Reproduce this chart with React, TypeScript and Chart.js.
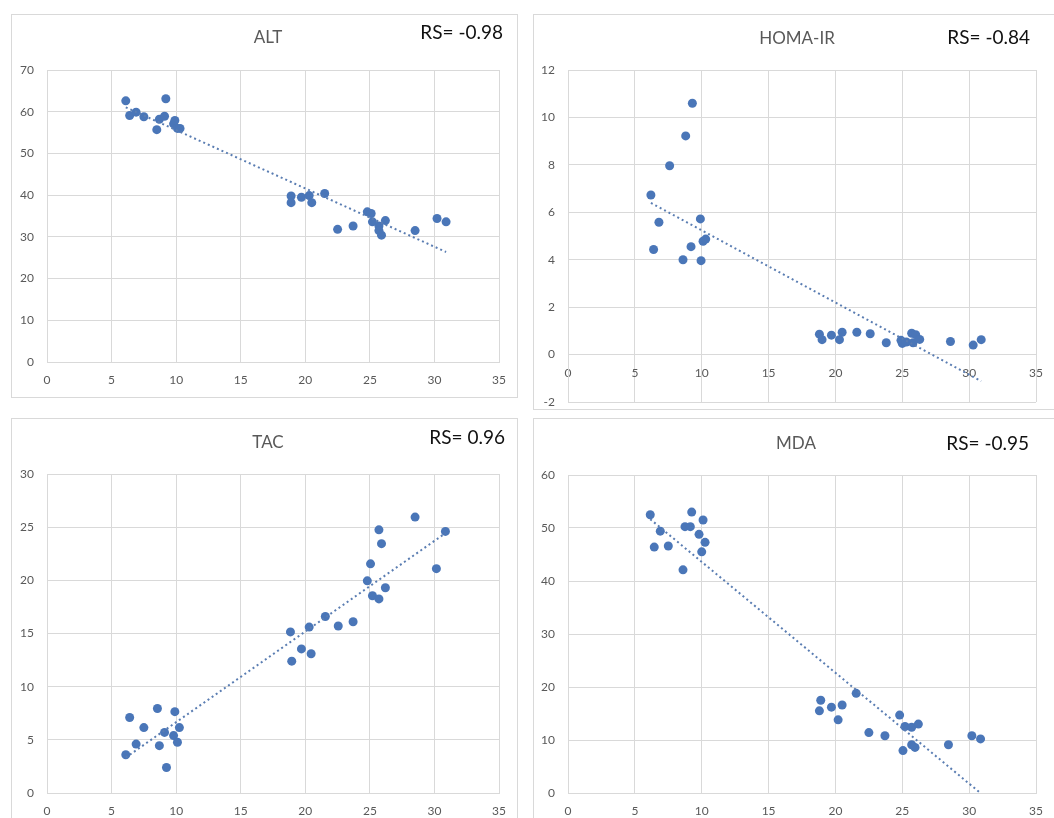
import React, { useEffect, useRef } from "react";
import { Chart, registerables } from "chart.js";

Chart.register(...registerables);

// ---------- data ----------
const xAxisRange = [0, 35, 5];

const altX = [6.1, 6.4, 6.9, 7.5, 8.5, 8.7, 9.1, 9.2, 9.8, 9.9, 10.1, 10.3, 18.9, 18.9, 19.7, 20.3, 20.5, 21.5, 22.5, 23.7, 24.8, 25.1, 25.2, 25.7, 25.7, 25.9, 26.2, 28.5, 30.2, 30.9];
const altY = [62.6, 59.1, 59.9, 58.8, 55.7, 58.2, 58.9, 63.1, 57.1, 57.9, 56.0, 56.0, 39.8, 38.2, 39.5, 39.9, 38.2, 40.4, 31.8, 32.6, 36.0, 35.6, 33.6, 32.6, 31.5, 30.4, 33.9, 31.5, 34.4, 33.6];
const altYAxis = [0, 70, 10];

const homaX = [6.2, 6.4, 6.8, 7.6, 8.6, 8.8, 9.2, 9.3, 9.9, 9.95, 10.1, 10.3, 18.8, 19.0, 19.7, 20.3, 20.5, 21.6, 22.6, 23.8, 24.9, 25.0, 25.3, 25.7, 25.8, 26.0, 26.3, 28.6, 30.3, 30.9];
const homaY = [6.73, 4.43, 5.58, 7.96, 4.0, 9.22, 4.55, 10.6, 5.72, 3.96, 4.78, 4.87, 0.86, 0.63, 0.82, 0.63, 0.94, 0.94, 0.88, 0.5, 0.6, 0.47, 0.53, 0.9, 0.5, 0.84, 0.64, 0.55, 0.4, 0.63];
const homaYAxis = [-2, 12, 2];

const tacX = [6.1, 6.4, 6.9, 7.5, 8.55, 8.7, 9.1, 9.25, 9.8, 9.9, 10.1, 10.25, 18.85, 18.95, 19.7, 20.3, 20.45, 21.55, 22.55, 23.7, 24.8, 25.05, 25.2, 25.7, 25.7, 25.9, 26.2, 28.5, 30.15, 30.85];
const tacY = [3.6, 7.1, 4.6, 6.15, 7.95, 4.45, 5.7, 2.4, 5.4, 7.65, 4.77, 6.15, 15.15, 12.4, 13.55, 15.6, 13.1, 16.6, 15.7, 16.1, 19.95, 21.55, 18.55, 24.75, 18.25, 23.45, 19.3, 25.95, 21.1, 24.6];
const tacYAxis = [0, 30, 5];

const mdaX = [6.15, 6.45, 6.9, 7.5, 8.6, 8.75, 9.15, 9.25, 9.8, 10.0, 10.1, 10.25, 18.8, 18.9, 19.7, 20.2, 20.5, 21.55, 22.5, 23.7, 24.8, 25.05, 25.2, 25.7, 25.7, 25.95, 26.2, 28.45, 30.2, 30.85];
const mdaY = [52.5, 46.4, 49.4, 46.6, 42.1, 50.25, 50.25, 53.0, 48.8, 45.5, 51.5, 47.3, 15.5, 17.5, 16.2, 13.8, 16.6, 18.8, 11.4, 10.8, 14.7, 8.0, 12.55, 12.4, 9.1, 8.6, 13.0, 9.1, 10.8, 10.2];
const mdaYAxis = [0, 60, 10];

const titles = ["ALT", "HOMA-IR", "TAC", "MDA"];
const rsLabels = ["RS= -0.98", "RS= -0.84", "RS= 0.96", "RS= -0.95"];

// ---------- styles ----------
const FONT = "Lato, 'Open Sans', 'DejaVu Sans', sans-serif";
const BLUE = "#4a76b8";
const TREND = "#5a7db2";
const GRID = "#d9d9d9";
const TICK = "#595959";

// least-squares trend line over the data's x range (like Excel's linear trendline)
function trendOf(xs: number[], ys: number[]) {
  const n = xs.length;
  const mx = xs.reduce((a, b) => a + b, 0) / n;
  const my = ys.reduce((a, b) => a + b, 0) / n;
  let sxx = 0, sxy = 0;
  for (let i = 0; i < n; i++) {
    sxx += (xs[i] - mx) ** 2;
    sxy += (xs[i] - mx) * (ys[i] - my);
  }
  const b = sxy / sxx;
  const a = my - b * mx;
  const x0 = Math.min(...xs), x1 = Math.max(...xs);
  return [{ x: x0, y: a + b * x0 }, { x: x1, y: a + b * x1 }];
}

// Draws the panel title (centred) and the RS label (right-aligned)
const panelTextPlugin = {
  id: "panelText",
  afterDraw(chart: any, _args: any, opts: any) {
    const ctx = chart.ctx;
    ctx.save();
    ctx.textBaseline = "middle";
    ctx.font = `17px ${FONT}`;
    ctx.fillStyle = TICK;
    ctx.textAlign = "center";
    ctx.fillText(opts.title, opts.tx, opts.ty);
    ctx.font = `19px ${FONT}`;
    ctx.fillStyle = "#111111";
    ctx.textAlign = "right";
    ctx.fillText(opts.rs, opts.rx, opts.ry);
    ctx.restore();
  },
};

type Rect = { left: number; top: number; width: number; height: number };
type PanelProps = {
  xs: number[]; ys: number[]; yAxis: number[]; title: string; rs: string;
  box: Rect; border: Rect;
  padT: number; padR: number; padB: number; yW: number; xH: number;
  titlePos: { x: number; y: number }; rsPos: { x: number; y: number };
  xAtZero?: boolean;
};

function Panel(p: PanelProps) {
  const ref = useRef<HTMLCanvasElement | null>(null);
  useEffect(() => {
    if (!ref.current) return;
    const points = p.xs.map((x, i) => ({ x, y: p.ys[i] }));
    const chart = new Chart(ref.current, {
      type: "scatter",
      data: {
        datasets: [
          {
            data: trendOf(p.xs, p.ys),
            showLine: true,
            borderColor: TREND,
            borderWidth: 2,
            borderDash: [2, 3],
            pointRadius: 0,
            fill: false,
            order: 0,
          } as any,
          {
            data: points,
            backgroundColor: BLUE,
            borderColor: BLUE,
            borderWidth: 0,
            pointRadius: 4.5,
            order: 1,
          } as any,
        ],
      },
      options: {
        responsive: false,
        animation: false,
        devicePixelRatio: 1,
        layout: { padding: { left: 0, right: p.padR, top: p.padT, bottom: p.padB } },
        plugins: {
          legend: { display: false },
          tooltip: { enabled: false },
          title: { display: false },
          panelText: { title: p.title, rs: p.rs, tx: p.titlePos.x, ty: p.titlePos.y, rx: p.rsPos.x, ry: p.rsPos.y },
        } as any,
        scales: {
          x: {
            type: "linear",
            min: xAxisRange[0],
            max: xAxisRange[1],
            position: (p.xAtZero ? { y: 0 } : "bottom") as any,
            ticks: { stepSize: xAxisRange[2], color: TICK, font: { family: FONT, size: 12 }, padding: 11 },
            grid: { color: GRID, drawTicks: false },
            border: { color: GRID },
            afterFit: (s: any) => { s.height = p.xH; },
          },
          y: {
            type: "linear",
            min: p.yAxis[0],
            max: p.yAxis[1],
            ticks: { stepSize: p.yAxis[2], color: TICK, font: { family: FONT, size: 12 }, padding: 0 },
            grid: { color: GRID, drawTicks: true, tickLength: 13, tickColor: "rgba(0,0,0,0)" },
            border: { color: GRID },
            afterFit: (s: any) => { s.width = p.yW; },
          },
        },
      },
      plugins: [panelTextPlugin as any],
    });
    return () => chart.destroy();
  }, []);

  return (
    <>
      <div
        style={{
          position: "absolute",
          left: p.border.left,
          top: p.border.top,
          width: p.border.width,
          height: p.border.height,
          border: `1px solid ${GRID}`,
          boxSizing: "border-box",
        }}
      />
      <canvas
        ref={ref}
        width={p.box.width}
        height={p.box.height}
        style={{ position: "absolute", left: p.box.left, top: p.box.top, width: p.box.width, height: p.box.height, display: "block" }}
      />
    </>
  );
}

export default function App() {
  return (
    <div
      style={{
        position: "absolute",
        left: 0,
        top: 0,
        width: 1054,
        height: 818,
        overflow: "hidden",
        background: "#ffffff",
      }}
    >
      <Panel
        xs={altX} ys={altY} yAxis={altYAxis} title={titles[0]} rs={rsLabels[0]}
        box={{ left: 11, top: 14, width: 506, height: 383 }}
        border={{ left: 11, top: 14, width: 507, height: 384 }}
        padT={56} padR={15} padB={0} yW={36} xH={35}
        titlePos={{ x: 257, y: 24 }} rsPos={{ x: 492, y: 19 }}
      />
      <Panel
        xs={homaX} ys={homaY} yAxis={homaYAxis} title={titles[1]} rs={rsLabels[1]}
        box={{ left: 533, top: 14, width: 521, height: 396 }}
        border={{ left: 533, top: 14, width: 530, height: 396 }}
        padT={56} padR={13} padB={8} yW={35} xH={0} xAtZero
        titlePos={{ x: 264, y: 25 }} rsPos={{ x: 497, y: 24 }}
      />
      <Panel
        xs={tacX} ys={tacY} yAxis={tacYAxis} title={titles[2]} rs={rsLabels[2]}
        box={{ left: 11, top: 418, width: 506, height: 400 }}
        border={{ left: 11, top: 418, width: 507, height: 410 }}
        padT={56} padR={15} padB={0} yW={36} xH={25}
        titlePos={{ x: 257, y: 25 }} rsPos={{ x: 494, y: 20 }}
      />
      <Panel
        xs={mdaX} ys={mdaY} yAxis={mdaYAxis} title={titles[3]} rs={rsLabels[3]}
        box={{ left: 533, top: 418, width: 521, height: 400 }}
        border={{ left: 533, top: 418, width: 530, height: 410 }}
        padT={57} padR={15} padB={0} yW={35} xH={25}
        titlePos={{ x: 263, y: 26 }} rsPos={{ x: 496, y: 26 }}
      />
    </div>
  );
}
